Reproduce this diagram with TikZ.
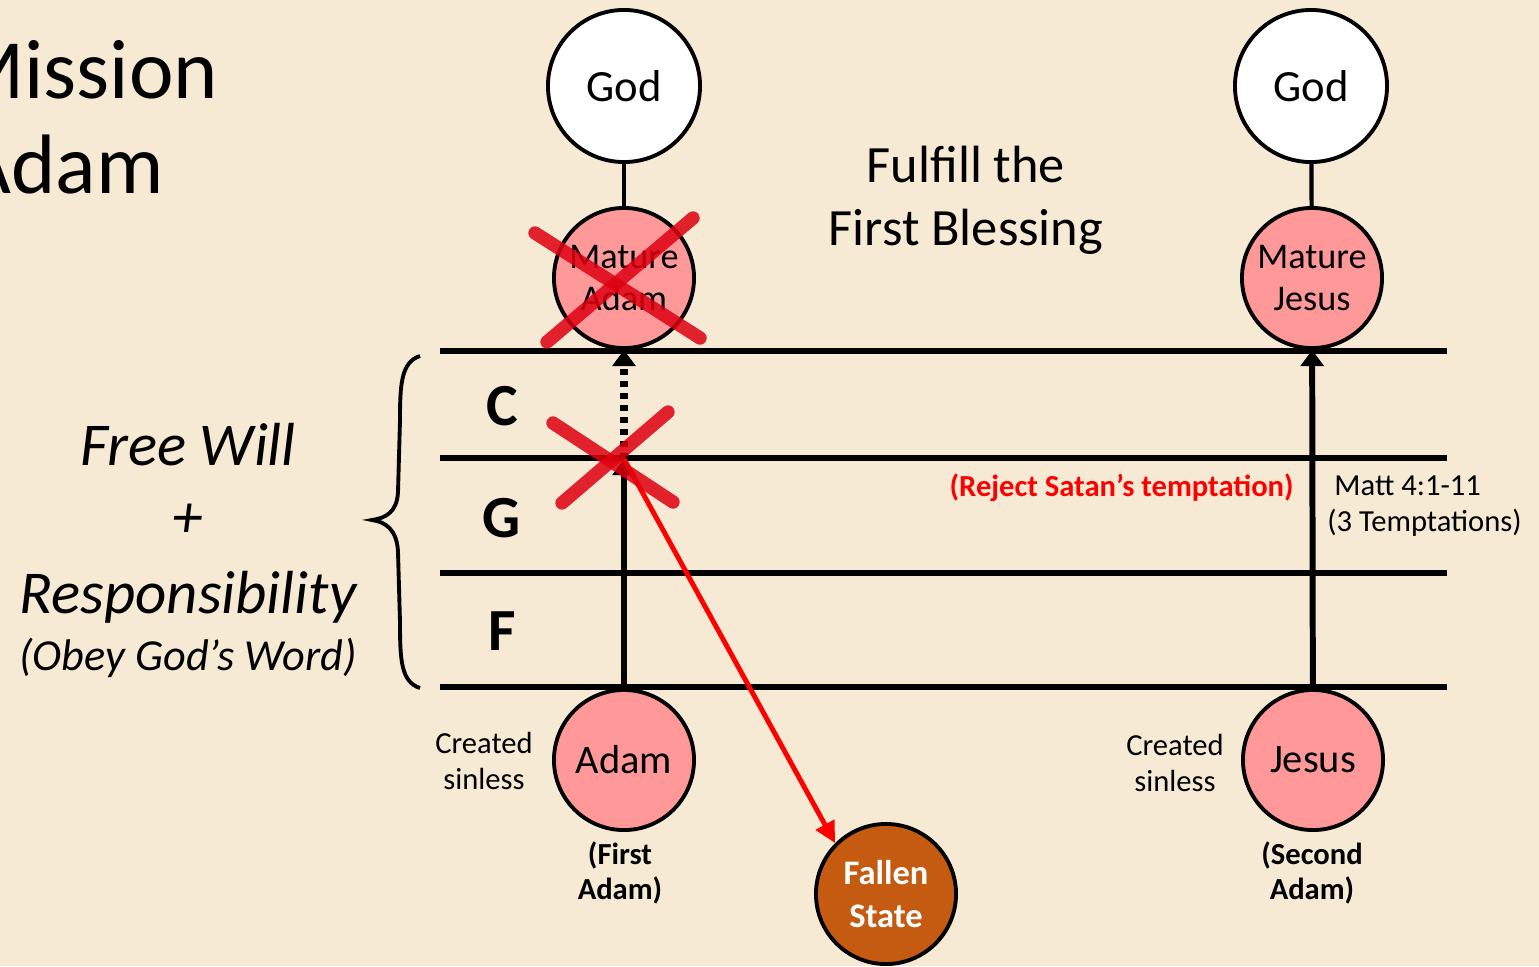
\documentclass[tikz,border=0pt]{standalone}
\usepackage{fontspec}
\setmainfont{Carlito}
\usetikzlibrary{arrows.meta,positioning}

\definecolor{slidebg}{RGB}{246,234,213}
\definecolor{adampink}{RGB}{255,153,153}
\definecolor{fallenbrown}{RGB}{197,90,17}
\definecolor{crossred}{RGB}{222,0,16}

\tikzset{
  godc/.style={circle, draw=black, line width=1.1pt, fill=white, inner sep=0pt,
    minimum size=1.52cm, font=\fontsize{12.7}{15}\selectfont},
  person/.style={circle, draw=black, line width=1.1pt, fill=adampink, inner sep=0pt,
    align=center, minimum size=1.40cm, font=\fontsize{10.3}{12.2}\selectfont},
  fallenc/.style={person, fill=fallenbrown, text=white,
    font=\fontsize{9.8}{12}\selectfont\bfseries},
  level/.style={line width=1.75pt},
  link/.style={line width=1.2pt},
  rise/.style={line width=1.7pt, -{Triangle[width=6.5pt,length=4.6pt]}},
  fallarrow/.style={line width=1.4pt, red, -{Triangle[width=5.8pt,length=6pt]}},
  cross/.style={line width=3.8pt, crossred, line cap=round, opacity=0.85},
  small/.style={align=center, font=\fontsize{8.7}{10.4}\selectfont},
  smallbold/.style={small, font=\fontsize{8.7}{10.2}\selectfont\bfseries},
  gradelabel/.style={anchor=base, font=\fontsize{17}{20}\selectfont\bfseries},
  sidetext/.style={anchor=base, font=\fontsize{17.3}{20}\selectfont\itshape}
}

\begin{document}
\begin{tikzpicture}[x=0.01cm, y=-0.01cm]
    \fill[slidebg] (0,0) rectangle (1539,966);
    \useasboundingbox (0,0) rectangle (1539,966);
    \clip (0,0) rectangle (1539,966);

    \node[anchor=base west, font=\fontsize{24}{28}\selectfont] (mission) at (-60,98) {Mission};
    \node[anchor=base west, font=\fontsize{24}{28}\selectfont] (adamtitle) at (-50,193) {Adam};

    \node[sidetext] (freewill) at (188,465) {Free Will};
    \node[sidetext] (plus) at (188,537) {+};
    \node[sidetext] (resp) at (188,613) {Responsibility};
    \node[sidetext, font=\fontsize{12.6}{15}\selectfont\itshape] (obey) at (188,670) {(Obey God’s Word)};

    \draw[line width=1.1pt] (420,356) .. controls (401,362) and (400,385) .. (400,420)
        -- (398,492) .. controls (397,512) and (386,518) .. (372,520)
        .. controls (386,522) and (397,530) .. (398,552)
        -- (400,622) .. controls (400,660) and (401,682) .. (420,688);

    \foreach \y in {351,458,573,687}
        \draw[level] (440,\y) -- (1447,\y);

    \node[gradelabel] (C) at (502,425) {C};
    \node[gradelabel] (G) at (502,537) {G};
    \node[gradelabel] (F) at (502,650) {F};

    \node[godc] (god1) at (624,86) {God};
    \node[godc] (god2) at (1311,86) {God};
    \node[person] (madam) at (624,278) {Mature\\Adam};
    \node[person] (mjesus) at (1312,278) {Mature\\Jesus};
    \node[person, font=\fontsize{11.5}{13}\selectfont] (adam) at (624,760) {Adam};
    \node[person, font=\fontsize{11.5}{13}\selectfont] (jesus) at (1313,760) {Jesus};
    \node[fallenc] (fallen) at (886,894) {Fallen\\State};
    \coordinate (gline) at (624,459);

    \node[align=center, font=\fontsize{14.9}{17.9}\selectfont] (blessing) at (966,200) {Fulfill the\\First Blessing};

    \node[small] (sinless1) at (484,761) {Created\\sinless};
    \node[small] (sinless2) at (1175,763) {Created\\sinless};
    \node[smallbold] (first) at (620,873) {(First\\Adam)};
    \node[smallbold] (second) at (1312,873) {(Second\\Adam)};
    \node[smallbold, text=red, anchor=east] (reject) at (1306,488) {(Reject Satan’s temptation)};
    \node[small, align=left, anchor=west] (matt) at (1315,506) {\hspace*{0.23em}Matt 4:1-11\\(3 Temptations)};

    \draw[link] (god1) -- (madam);
    \draw[link] (god2) -- (mjesus);
    \draw[rise] (adam) -- (gline);
    \draw[rise, dash pattern=on 1.7pt off 1.7pt, line width=2pt] (gline) -- (madam);
    \draw[rise] (jesus) -- (mjesus);
    \draw[fallarrow] (gline) -- (fallen.135);

    \draw[cross] (535,233) -- (700,338);
    \draw[cross] (547,342) -- (693,218);
    \draw[cross] (553,423) -- (673,502);
    \draw[cross] (562,503) -- (668,412);
\end{tikzpicture}
\end{document}
